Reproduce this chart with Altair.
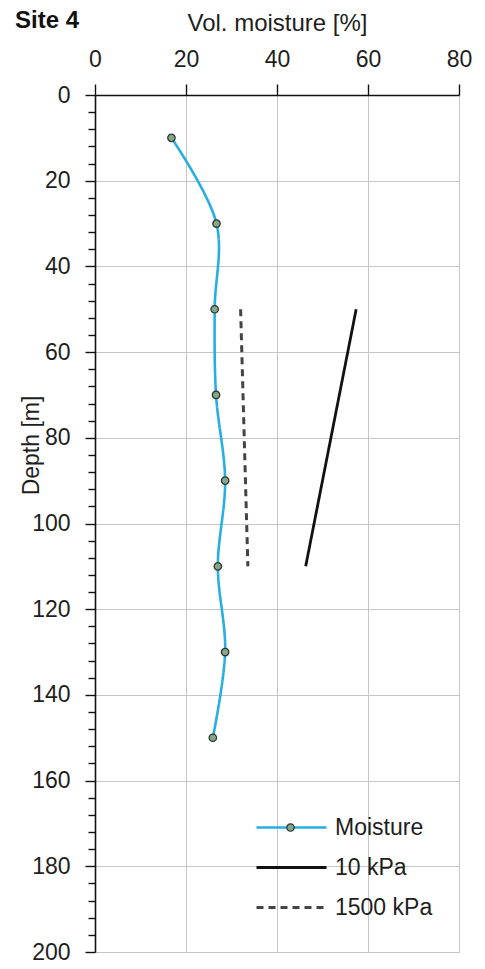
import altair as alt
import pandas as pd

FONT = "Liberation Sans"
TEXT = "#1e1e1e"

# Legend / series styling
series_names = ["Moisture", "10 kPa", "1500 kPa"]
series_colors = ["#27aee2", "#111111", "#444444"]
series_dash = [[1, 0], [1, 0], [7, 5]]
series_width = [2.6, 3.0, 1.3]
marker_fill = "#86a88a"
marker_stroke = "#2e3631"

# Volumetric moisture profile (depth in m, moisture in %)
moisture_depth = [10, 30, 50, 70, 90, 110, 130, 150]
moisture_pct = [16.8, 26.7, 26.3, 26.6, 28.6, 27.0, 28.6, 25.9]

# Retention reference lines
kpa10_depth = [50, 110]
kpa10_pct = [57.4, 46.3]

kpa1500_depth = [50, 110]
kpa1500_pct = [32.0, 33.6]

x_ticks = [0, 20, 40, 60, 80]
y_ticks = list(range(0, 201, 4))

rows = []
for name, depths, vals in [
    ("Moisture", moisture_depth, moisture_pct),
    ("10 kPa", kpa10_depth, kpa10_pct),
    ("1500 kPa", kpa1500_depth, kpa1500_pct),
]:
    for d, v in zip(depths, vals):
        rows.append({"series": name, "depth": d, "pct": v})
lines_df = pd.DataFrame(rows)
points_df = pd.DataFrame(
    {"depth": moisture_depth, "pct": moisture_pct, "marker": ["Moisture"] * len(moisture_depth)}
)

major = "datum.value % 20 === 0"

x_enc = alt.X(
    "pct:Q",
    scale=alt.Scale(domain=[0, 80], nice=False, zero=False),
    axis=alt.Axis(
        orient="top",
        values=x_ticks,
        title="Vol. moisture [%]",
        titleFont=FONT,
        titleFontSize=24,
        titleFontWeight="normal",
        titleColor=TEXT,
        titleBaseline="alphabetic",
        titleY=-65,
        labelFont=FONT,
        labelFontSize=23,
        labelColor=TEXT,
        labelBaseline="alphabetic",
        labelPadding=18,
        labelFlush=False,
        domainColor="#111111",
        domainWidth=1.6,
        tickColor="#111111",
        tickWidth=1.4,
        tickSize=11,
        gridColor="#c6c6c6",
        gridWidth=1,
    ),
)

y_enc = alt.Y(
    "depth:Q",
    scale=alt.Scale(domain=[0, 200], reverse=True, nice=False),
    axis=alt.Axis(
        orient="left",
        values=y_ticks,
        labelExpr=f"{major} ? datum.label : ''",
        labelOverlap=False,
        labelFlush=False,
        title="Depth [m]",
        titleFont=FONT,
        titleFontSize=23,
        titleFontWeight="normal",
        titleColor=TEXT,
        titleAngle=270,
        titleAlign="center",
        titleBaseline="middle",
        titleX=-64,
        titleY=350,
        labelFont=FONT,
        labelFontSize=23,
        labelColor=TEXT,
        labelPadding=15,
        domainColor="#111111",
        domainWidth=1.6,
        tickColor="#111111",
        tickWidth=1.4,
        tickSize={"condition": {"test": major, "value": 10}, "value": 7},
        gridColor="#c6c6c6",
        gridWidth=1,
        gridOpacity={"condition": {"test": major, "value": 1}, "value": 0},
    ),
)

line_symbol = "M-5.5,0H1.5"

series_legend = alt.Legend(
    title=None,
    orient="none",
    legendX=205,
    legendY=721,
    padding=0,
    labelFont=FONT,
    labelFontSize=23,
    labelColor=TEXT,
    labelOffset=12,
    symbolSize=400,
    symbolType=line_symbol,
    symbolOpacity=1,
    rowPadding=16,
)

# single-entry legend that places the marker dot on the Moisture key line
marker_legend = alt.Legend(
    title=None,
    orient="none",
    legendX=184,
    legendY=721,
    padding=0,
    labelExpr="''",
    labelFontSize=23,
    symbolType="circle",
    symbolSize=55,
    symbolFillColor=marker_fill,
    symbolStrokeColor=marker_stroke,
    symbolStrokeWidth=1.3,
    symbolOpacity=1,
)

lines = (
    alt.Chart(lines_df)
    .mark_line(interpolate="catmull-rom")
    .encode(
        x=x_enc,
        y=y_enc,
        color=alt.Color(
            "series:N",
            scale=alt.Scale(domain=series_names, range=series_colors),
            legend=series_legend,
        ),
        strokeDash=alt.StrokeDash(
            "series:N",
            scale=alt.Scale(domain=series_names, range=series_dash),
        ),
        strokeWidth=alt.StrokeWidth(
            "series:N",
            scale=alt.Scale(domain=series_names, range=series_width),
        ),
        order=alt.Order("depth:Q"),
    )
)

points = (
    alt.Chart(points_df)
    .mark_circle(size=55, stroke=marker_stroke, strokeWidth=1.3, opacity=1)
    .encode(
        x=x_enc,
        y=y_enc,
        fill=alt.Fill(
            "marker:N",
            scale=alt.Scale(domain=["Moisture"], range=[marker_fill]),
            legend=marker_legend,
        ),
    )
)

chart = (
    alt.layer(lines, points)
    .resolve_scale(fill="independent")
    .properties(
        width=364,
        height=857,
        title=alt.TitleParams(
            "Site 4",
            anchor="start",
            frame="group",
            font=FONT,
            fontSize=24,
            fontWeight="bold",
            color="#111111",
            dx=-80,
            dy=26,
        ),
        autosize=alt.AutoSizeParams(type="none"),
        padding={"left": 95, "top": 95, "right": 26, "bottom": 17},
    )
    .configure_view(stroke="#a8a8a8", strokeWidth=1)
    .configure(background="white")
)

chart.save("out.html", embed_options={"renderer": "svg", "actions": False})
